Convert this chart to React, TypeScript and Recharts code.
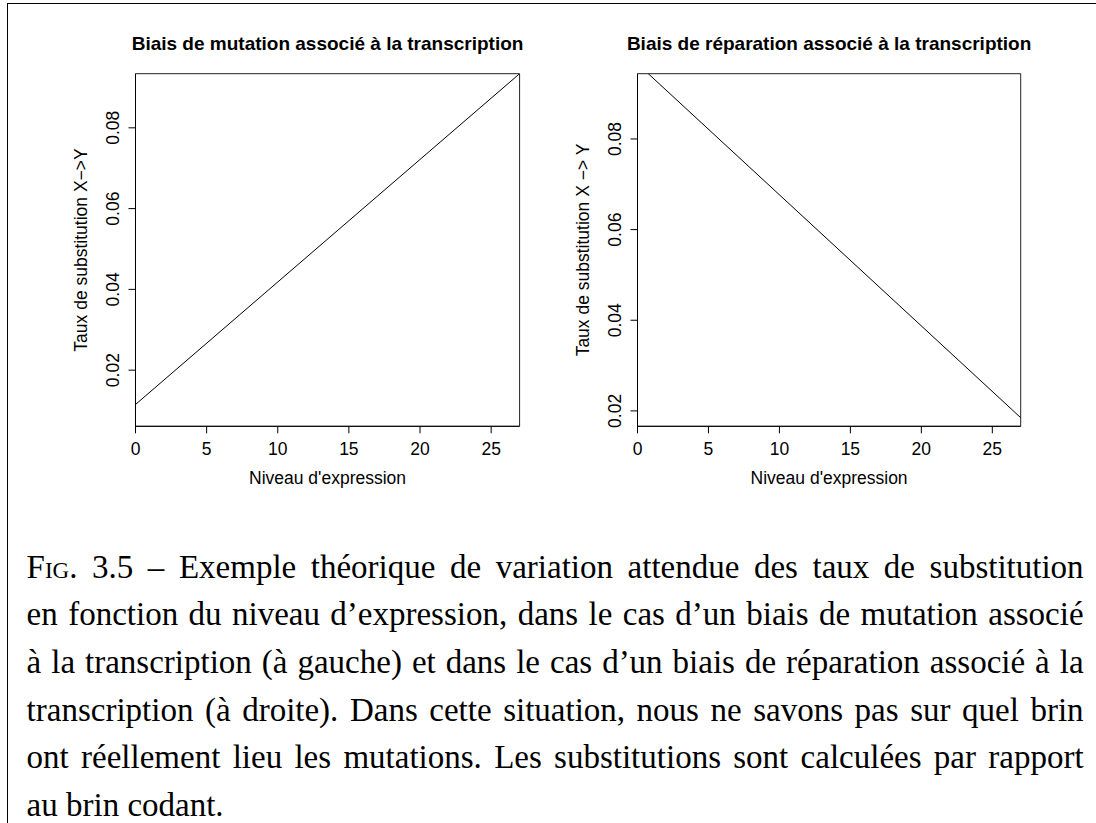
import React from 'react';
import { LineChart, Line, XAxis, YAxis, ReferenceArea } from 'recharts';

// expression level (x) at both ends of each theoretical line
const expression = [0, 27];
const mutationRate = [0.0115, 0.0934];
const repairRate = [0.0966, 0.0185];

const xTicks = [0, 5, 10, 15, 20, 25];
const yTicks = [0.02, 0.04, 0.06, 0.08];
const xDomain = [0, 27];
const mutationDomain = [0.0061, 0.0934];
const repairDomain = [0.0166, 0.0944];

const captionLines = [
  'Exemple théorique de variation attendue des taux de substitution',
  'en fonction du niveau d’expression, dans le cas d’un biais de mutation associé',
  'à la transcription (à gauche) et dans le cas d’un biais de réparation associé à la',
  'transcription (à droite). Dans cette situation, nous ne savons pas sur quel brin',
  'ont réellement lieu les mutations. Les substitutions sont calculées par rapport',
  'au brin codant.',
];

const SANS = '"Liberation Sans", Arial, sans-serif';
const SERIF = '"Liberation Serif", "Times New Roman", serif';
const AXIS_FONT = 17.5;

const YTick = ({ x, y, payload }: any) => (
  <text
    x={x - 9.5}
    y={y}
    transform={`rotate(-90, ${x - 9.5}, ${y})`}
    textAnchor="middle"
    fontFamily={SANS}
    fontSize={AXIS_FONT}
    fill="#000"
  >
    {payload.value.toFixed(2)}
  </text>
);

const YTitle = ({ viewBox, text }: any) => {
  const x = viewBox.x + viewBox.width - 48.2;
  const y = viewBox.y + viewBox.height / 2;
  return (
    <text
      x={x}
      y={y}
      transform={`rotate(-90, ${x}, ${y})`}
      textAnchor="middle"
      fontFamily={SANS}
      fontSize={AXIS_FONT}
      fill="#000"
    >
      {text}
    </text>
  );
};

const XTitle = ({ viewBox, text }: any) => (
  <text
    x={viewBox.x + viewBox.width / 2}
    y={viewBox.y + 58}
    textAnchor="middle"
    fontFamily={SANS}
    fontSize={AXIS_FONT}
    fill="#000"
  >
    {text}
  </text>
);

interface PanelProps {
  left: number;
  title: string;
  yLabel: string;
  rates: number[];
  yDomain: number[];
  margin: { top: number; right: number; bottom: number; left: number };
}

function Panel({ left, title, yLabel, rates, yDomain, margin }: PanelProps) {
  const data = expression.map((x, i) => ({ x, y: rates[i] }));
  const plotCenter = margin.left + 70 + (548 - margin.left - 70 - margin.right) / 2;

  return (
    <div style={{ position: 'absolute', left, top: 0, width: 548, height: 500 }}>
      <div
        style={{
          position: 'absolute',
          left: plotCenter - 250,
          top: 33.9,
          width: 500,
          textAlign: 'center',
          fontFamily: SANS,
          fontWeight: 'bold',
          fontSize: 19,
          lineHeight: '19px',
          color: '#000',
          whiteSpace: 'nowrap',
        }}
      >
        {title}
      </div>
      <LineChart width={548} height={500} data={data} margin={margin}>
        <XAxis
          type="number"
          dataKey="x"
          domain={xDomain}
          ticks={xTicks}
          allowDataOverflow
          height={70}
          tickSize={7}
          tickMargin={9}
          axisLine={{ stroke: '#000' }}
          tickLine={{ stroke: '#000' }}
          tick={{ fill: '#000', fontSize: AXIS_FONT, fontFamily: SANS }}
          label={<XTitle text="Niveau d'expression" />}
        />
        <YAxis
          type="number"
          domain={yDomain}
          ticks={yTicks}
          allowDataOverflow
          width={70}
          tickSize={7}
          tickMargin={0}
          axisLine={{ stroke: '#000' }}
          tickLine={{ stroke: '#000' }}
          tick={<YTick />}
          label={<YTitle text={yLabel} />}
        />
        <ReferenceArea
          x1={xDomain[0]}
          x2={xDomain[1]}
          y1={yDomain[0]}
          y2={yDomain[1]}
          fill="none"
          stroke="#222"
          strokeWidth={1}
        />
        <Line
          type="linear"
          dataKey="y"
          stroke="#000"
          strokeWidth={1}
          dot={false}
          activeDot={false}
          isAnimationActive={false}
        />
      </LineChart>
    </div>
  );
}

export default function App() {
  return (
    <div
      style={{
        position: 'absolute',
        left: 0,
        top: 0,
        width: 1096,
        height: 823,
        overflow: 'hidden',
        background: '#fff',
      }}
    >
      {/* page frame, only top and left edges are visible */}
      <div
        style={{
          position: 'absolute',
          left: 7,
          top: 3,
          width: 1200,
          height: 900,
          borderTop: '1px solid #000',
          borderLeft: '1px solid #000',
        }}
      />

      <Panel
        left={0}
        title="Biais de mutation associé à la transcription"
        yLabel="Taux de substitution X−>Y"
        rates={mutationRate}
        yDomain={mutationDomain}
        margin={{ top: 73.7, right: 28.4, bottom: 3.7, left: 65.5 }}
      />
      <Panel
        left={548}
        title="Biais de réparation associé à la transcription"
        yLabel="Taux de substitution X −> Y"
        rates={repairRate}
        yDomain={repairDomain}
        margin={{ top: 73.7, right: 75.3, bottom: 3.7, left: 19.5 }}
      />

      <div
        style={{
          position: 'absolute',
          left: 26.6,
          top: 543.8,
          width: 1057,
          fontFamily: SERIF,
          fontSize: 33,
          color: '#000',
        }}
      >
        {captionLines.map((line, i) => {
          const last = i === captionLines.length - 1;
          return (
            <div
              key={i}
              style={{
                height: 47.6,
                lineHeight: '47.6px',
                textAlign: last ? 'left' : 'justify',
                textAlignLast: last ? 'left' : 'justify',
              }}
            >
              {i === 0 && (
                <>
                  <span style={{ fontVariant: 'small-caps' }}>Fig.</span> 3.5 –{' '}
                </>
              )}
              {line}
            </div>
          );
        })}
      </div>
    </div>
  );
}
